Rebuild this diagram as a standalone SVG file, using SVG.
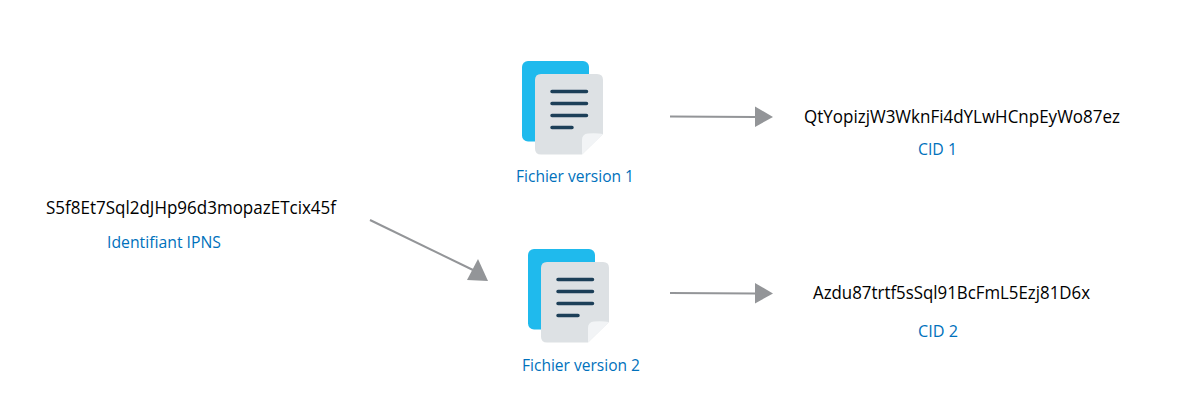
<svg xmlns="http://www.w3.org/2000/svg" width="1200" height="415" viewBox="0 0 1200 415">
<style>
.h{font-family:"Open Sans","Noto Sans",sans-serif;font-size:17.5px;fill:#000000}
.l{font-family:"Open Sans","Noto Sans",sans-serif;font-size:16px;fill:#0071bc}
.c{fill:none;stroke:#939598;stroke-width:2}
.a{fill:#939598}
.back{fill:#1fbaed}
.page{fill:#dde1e4}
.fold{fill:#f2f4f6}
.bar{stroke:#1c3f58;stroke-width:3.500;stroke-linecap:round;fill:none}
</style>
<defs>
<g id="doc">
<rect class="back" x="0" y="0" width="67" height="80.5" rx="6"/>
<path class="page" d="M19 13H75Q81 13 81 19V73L60 93.500H19Q13 93.500 13 87.500V19Q13 13 19 13Z"/>
<path class="fold" d="M60 93.500V79Q60 73 66 72.500Q75 72 81 73Z"/>
<path class="bar" d="M30 30.500H64.500M30 42.500H64.500M30 54.500H64.500M30 66.500H50"/>
</g>
</defs>
<g id="connectors">
<path class="c" d="M670 116.500L755 117"/><path class="a" d="M755 106.500L773 117L755 127Z"/>
<path class="c" d="M670 293L755 293.500"/><path class="a" d="M755 283L773 293.500L755 303.500Z"/>
<path class="c" d="M370 220L473 270"/><path class="a" d="M478 259L488 281L467 280Z"/>
</g>
<g id="ipns"><text class="h" x="46" y="214" textLength="290" lengthAdjust="spacingAndGlyphs">S5f8Et7Sql2dJHp96d3mopazETcix45f</text>
<text class="l" x="107" y="247.500" textLength="114" lengthAdjust="spacingAndGlyphs">Identifiant IPNS</text></g>
<g id="file1"><use href="#doc" x="522" y="61"/><text class="l" x="516" y="181.500" textLength="118" lengthAdjust="spacingAndGlyphs">Fichier version 1</text></g>
<g id="file2"><use href="#doc" x="528" y="249"/><text class="l" x="522" y="370.500" textLength="118" lengthAdjust="spacingAndGlyphs">Fichier version 2</text></g>
<g id="cid1"><text class="h" x="804" y="122.500" textLength="316" lengthAdjust="spacingAndGlyphs">QtYopizjW3WknFi4dYLwHCnpEyWo87ez</text>
<text class="l" x="918" y="154.500" textLength="39" lengthAdjust="spacingAndGlyphs">CID 1</text></g>
<g id="cid2"><text class="h" x="813" y="298.500" textLength="277" lengthAdjust="spacingAndGlyphs">Azdu87trtf5sSql91BcFmL5Ezj81D6x</text>
<text class="l" x="918" y="336.500" textLength="40" lengthAdjust="spacingAndGlyphs">CID 2</text></g>
</svg>
